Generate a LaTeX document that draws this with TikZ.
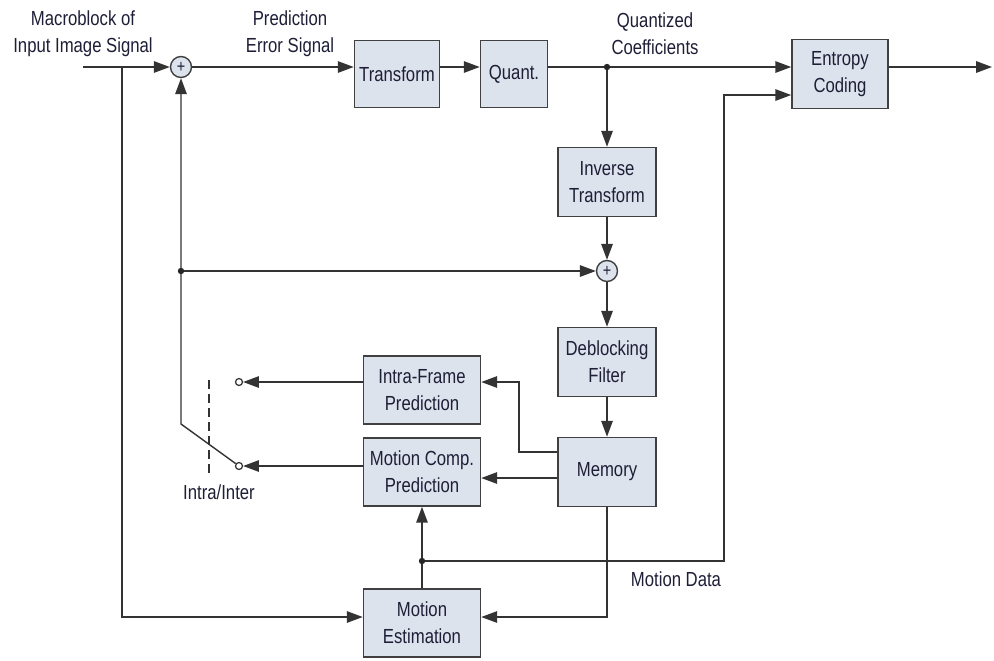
\documentclass[tikz,border=0pt]{standalone}
\usepackage{fontspec}
\setmainfont{Liberation Sans}[FakeStretch=0.82]
\usetikzlibrary{arrows.meta}

\definecolor{boxfill}{RGB}{221,227,237}
\definecolor{ink}{RGB}{30,30,55}

\tikzset{
    block/.style={draw=black!75, fill=boxfill, line width=0.9pt, align=center,
        text=ink, font=\fontsize{11.6}{15.5}\selectfont, inner sep=0pt},
    sum/.style={circle, draw=black!75, fill=boxfill, line width=0.8pt,
        minimum size=0.42cm, inner sep=0pt, text=ink, font=\normalsize},
    contact/.style={circle, draw=black!80, fill=white, line width=0.7pt,
        minimum size=0.14cm, inner sep=0pt},
    lbl/.style={text=ink, align=center, font=\fontsize{11.6}{15.5}\selectfont},
    arr/.style={-{Triangle[length=9pt,width=6.5pt]}}
}

\begin{document}
\begin{tikzpicture}[x=0.02cm, y=-0.02cm, line width=0.8pt, black!80]
    \useasboundingbox (0,0) rectangle (994,660);

    % Blocks
    \node[block, minimum width=1.7cm, minimum height=1.34cm] (tr) at (397,74) {Transform};
    \node[block, minimum width=1.34cm, minimum height=1.34cm] (qu) at (514,74) {Quant.};
    \node[block, minimum width=1.92cm, minimum height=1.38cm] (en) at (840,74) {Entropy\\Coding};
    \node[block, minimum width=1.96cm, minimum height=1.38cm] (it) at (607,182) {Inverse\\Transform};
    \node[block, minimum width=1.96cm, minimum height=1.38cm] (db) at (607,362) {Deblocking\\Filter};
    \node[block, minimum width=1.96cm, minimum height=1.38cm] (mem) at (607,472) {Memory};
    \node[block, minimum width=2.34cm, minimum height=1.36cm] (ip) at (422,390) {Intra-Frame\\Prediction};
    \node[block, minimum width=2.34cm, minimum height=1.36cm] (mp) at (422,472) {Motion Comp.\\Prediction};
    \node[block, minimum width=2.34cm, minimum height=1.36cm] (me) at (422,623) {Motion\\Estimation};

    % Summing points and switch contacts
    \node[sum] (s1) at (181,67) {+};
    \node[sum] (s2) at (607,271) {+};
    \node[contact] (ca) at (239,382) {};
    \node[contact] (cb) at (239,466) {};

    % Helper points
    \coordinate (in) at (83,67);
    \coordinate (split) at (122,67);
    \coordinate (qdot) at (607,67);
    \coordinate (fb) at (181,271);
    \coordinate (knee) at (181,424);
    \coordinate (mdot) at (422,561);
    \coordinate (out) at (992,67);

    % Forward path
    \draw[arr] (in) -- (s1);
    \draw[arr] (s1) -- (s1 -| tr.west);
    \draw[arr] (tr.east |- s1) -- (qu.west |- s1);
    \draw[arr] (qu.east |- s1) -- (en.west |- s1);
    \draw[arr] (en.east |- out) -- (out);

    % Reconstruction loop
    \draw[arr] (qdot) -- (it);
    \draw[arr] (it) -- (s2);
    \draw[arr] (fb) -- (s2);
    \draw[arr] (s2) -- (db);
    \draw[arr] (db) -- (mem);

    % Prediction paths
    \draw[arr] (mem.west |- 0,452) -- (519,452) |- (ip.east |- ca);
    \draw[arr] (mem.west |- 0,478) -- (mp.east |- 0,478);
    \draw[arr] (ip.west |- ca) -- (ca);
    \draw[arr] (mp.west |- cb) -- (cb);

    % Switch
    \draw[arr] (cb) -- (knee) -- (s1);
    \draw[dash pattern=on 5pt off 3pt, line width=0.7pt] (209,380) -- (209,478);

    % Motion estimation
    \draw[arr] (split) |- (me.west |- 0,617);
    \draw[arr] (mem.south) |- (me.east |- 0,617);
    \draw (me.north) -- (mdot);
    \draw[arr] (mdot) -- (mp.south);
    \draw[arr] (mdot) -- (724,561) |- (en.west |- 0,95);

    % Junction dots
    \fill[black!85] (qdot) circle (3.2);
    \fill[black!85] (fb) circle (3.2);
    \fill[black!85] (mdot) circle (3.2);

    % Labels
    \node[lbl] at (83,34) {Macroblock of\\Input Image Signal};
    \node[lbl] at (290,34) {Prediction\\Error Signal};
    \node[lbl] at (655,34) {Quantized\\Coefficients};
    \node[lbl] at (219,492) {Intra/Inter};
    \node[lbl] at (676,579) {Motion Data};
\end{tikzpicture}
\end{document}
